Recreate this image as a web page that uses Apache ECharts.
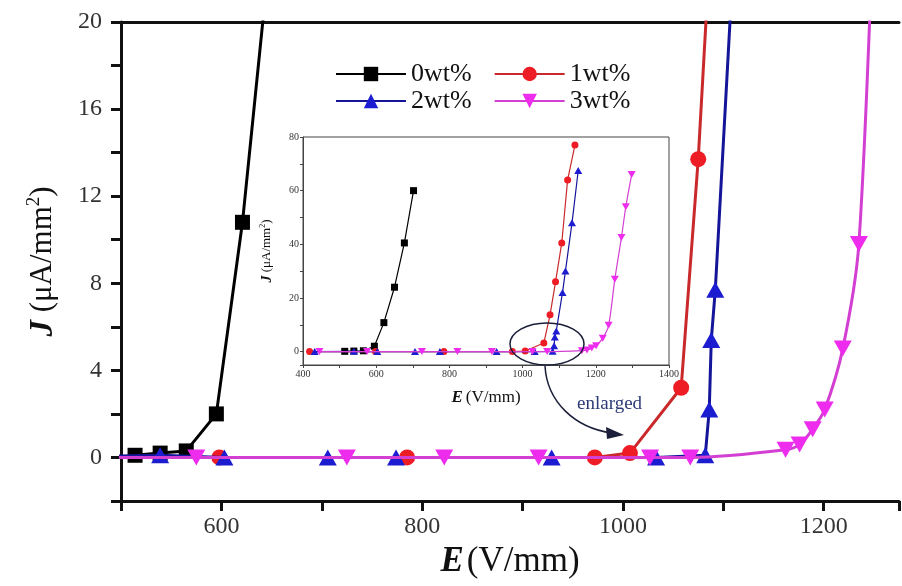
<!DOCTYPE html>
<html>
<head>
<meta charset="utf-8">
<script src="https://cdn.jsdelivr.net/npm/echarts@6/dist/echarts.min.js"></script>
<style>
html, body { margin: 0; padding: 0; background: #fff; }
#chart { width: 902px; height: 586px; }
</style>
</head>
<body>
<div id="chart"></div>
<script>
// E (V/mm) against J (uA/mm2), one pair of arrays per sample
const e0 = [514, 539, 565, 595, 621, 650, 677, 702]
const j0 = [0.1, 0.2, 0.3, 2.0, 10.8, 24, 40.5, 60]
const e1 = [418, 598, 785, 972, 1007, 1058, 1075, 1090, 1107, 1123, 1143]
const j1 = [0, 0, 0, 0, 0.2, 3.2, 13.7, 26, 40.5, 64, 77]
const e2 = [432, 539, 603, 706, 774, 929, 1033, 1082, 1086, 1088, 1092, 1109, 1117, 1135, 1152]
const j2 = [0, 0.1, 0, 0, 0, 0, 0, 0.1, 2.2, 5.4, 7.7, 22, 30, 48, 67.5]
const e3 = [445, 575, 725, 822, 916, 1027, 1067, 1162, 1176, 1189, 1201, 1219, 1235, 1252, 1270, 1282, 1298]
const j3 = [0, 0, 0, 0, 0, 0, 0, 0.35, 0.6, 1.3, 2.2, 5.0, 9.8, 27, 42.5, 54, 66]

const names = ['0wt%', '1wt%', '2wt%', '3wt%']
const xsList = [e0, e1, e2, e3]
const ysList = [j0, j1, j2, j3]

const serif = '"Liberation Serif", "DejaVu Serif", serif'
const lineColors = ['#000000', '#c9292b', '#15159a', '#d23fd2']
const markColors = ['#000000', '#ee1c24', '#1c1cd0', '#ee2cee']
const symbols = ['rect', 'circle', 'triangle', 'triangle']
const rotates = [0, 0, 0, 180]
const bigSizes = [15, 16, [18, 16], [18, 16]]
const smallSizes = [7, 7, [8, 7], [8, 7]]
const smoothing = [false, false, false, 0.3]

function pairs(xs, ys) {
  return xs.map((x, i) => [x, ys[i]])
}

let series = []
names.forEach((name, i) => {
  const base = {
    name: name,
    type: 'line',
    data: pairs(xsList[i], ysList[i]),
    symbol: symbols[i],
    symbolRotate: rotates[i],
    smooth: smoothing[i],
    clip: true,
    itemStyle: { color: markColors[i] },
    emphasis: { disabled: true }
  }
  // main plot
  series.push(Object.assign({}, base, {
    xAxisIndex: 0, yAxisIndex: 0,
    symbolSize: bigSizes[i],
    lineStyle: { color: lineColors[i], width: 3 },
    z: 2 + i
  }))
  // inset
  series.push(Object.assign({}, base, {
    xAxisIndex: 2, yAxisIndex: 1,
    symbolSize: smallSizes[i],
    lineStyle: { color: lineColors[i], width: 1.2 },
    z: 10 + i
  }))
})

const chart = echarts.init(document.getElementById('chart'))

const option = {
  animation: false,
  backgroundColor: '#fff',
  legend: [
    {
      data: ['0wt%', '1wt%'], left: 330, top: 56, itemWidth: 70, itemHeight: 18, itemGap: 22,
      selectedMode: false, textStyle: { fontFamily: serif, fontSize: 26, color: '#111' }
    },
    {
      data: ['2wt%', '3wt%'], left: 330, top: 83, itemWidth: 70, itemHeight: 18, itemGap: 22,
      selectedMode: false, textStyle: { fontFamily: serif, fontSize: 26, color: '#111' }
    }
  ],
  grid: [
    { left: 121, top: 22, right: 0, bottom: 85 },
    {
      left: 303, top: 137, width: 366, height: 228, show: true,
      backgroundColor: '#fff', borderColor: '#444', borderWidth: 1
    }
  ],
  xAxis: [
    {
      gridIndex: 0, type: 'value', min: 500, max: 1275, interval: 100,
      axisLine: { onZero: false, lineStyle: { color: '#111', width: 3 } },
      axisTick: { length: 10, lineStyle: { color: '#111', width: 3 } },
      axisLabel: {
        formatter: v => (v % 200 === 0 ? String(v) : ''),
        fontFamily: serif, fontSize: 24, color: '#333', margin: 14
      },
      splitLine: { show: false },
      name: '{b|E} {n|(V/mm)}',
      nameLocation: 'middle', nameGap: 43,
      nameTextStyle: {
        fontFamily: serif, color: '#111',
        rich: {
          b: { fontFamily: serif, fontSize: 35, fontWeight: 'bold', fontStyle: 'italic', color: '#111' },
          n: { fontFamily: serif, fontSize: 35, color: '#111' }
        }
      }
    },
    {
      gridIndex: 0, type: 'value', position: 'top', min: 500, max: 1275,
      axisLine: { onZero: false, lineStyle: { color: '#111', width: 3 } },
      axisTick: { show: false }, axisLabel: { show: false }, splitLine: { show: false }
    },
    {
      gridIndex: 1, type: 'value', min: 400, max: 1400, interval: 100,
      axisLine: { onZero: false, lineStyle: { color: '#444', width: 1 } },
      axisTick: { length: 3, lineStyle: { color: '#444' } },
      axisLabel: {
        formatter: v => (v % 200 === 0 ? String(v) : ''),
        fontFamily: serif, fontSize: 10, color: '#333', margin: 4
      },
      splitLine: { show: false },
      name: '{b|E} {n|(V/mm)}',
      nameLocation: 'middle', nameGap: 24,
      nameTextStyle: {
        fontFamily: serif, color: '#111',
        rich: {
          b: { fontFamily: serif, fontSize: 17, fontWeight: 'bold', fontStyle: 'italic', color: '#111' },
          n: { fontFamily: serif, fontSize: 17, color: '#111' }
        }
      }
    }
  ],
  yAxis: [
    {
      gridIndex: 0, type: 'value', min: -2, max: 20, interval: 2,
      axisLine: { onZero: false, lineStyle: { color: '#111', width: 3 } },
      axisTick: { length: 10, lineStyle: { color: '#111', width: 3 } },
      axisLabel: {
        formatter: v => (v % 4 === 0 ? String(v) : ''),
        fontFamily: serif, fontSize: 24, color: '#333', margin: 19
      },
      splitLine: { show: false },
      name: '{b|J}{n| (μA/mm}{s|2}{n|)}',
      nameLocation: 'middle', nameGap: 60, nameRotate: 90,
      nameTextStyle: {
        fontFamily: serif, color: '#111',
        rich: {
          b: { fontFamily: serif, fontSize: 33, fontWeight: 'bold', fontStyle: 'italic', color: '#111', lineHeight: 36 },
          n: { fontFamily: serif, fontSize: 31, color: '#111', lineHeight: 36 },
          s: { fontFamily: serif, fontSize: 19, color: '#111', verticalAlign: 'top', lineHeight: 20 }
        }
      }
    },
    {
      gridIndex: 1, type: 'value', min: -5, max: 80, splitNumber: 8, minInterval: 10, maxInterval: 10,
      axisLine: { onZero: false, lineStyle: { color: '#444', width: 1 } },
      axisTick: { length: 3, lineStyle: { color: '#444' } },
      axisLabel: {
        formatter: v => (v >= 0 && v % 20 === 0 ? String(v) : ''),
        fontFamily: serif, fontSize: 10, color: '#333', margin: 4
      },
      splitLine: { show: false },
      name: '{b|J}{n| (μA/mm}{s|2}{n|)}',
      nameLocation: 'middle', nameGap: 28, nameRotate: 90,
      nameTextStyle: {
        fontFamily: serif, color: '#111',
        rich: {
          b: { fontFamily: serif, fontSize: 14, fontWeight: 'bold', fontStyle: 'italic', color: '#111', lineHeight: 16 },
          n: { fontFamily: serif, fontSize: 13, color: '#111', lineHeight: 16 },
          s: { fontFamily: serif, fontSize: 8, color: '#111', verticalAlign: 'top', lineHeight: 9 }
        }
      }
    }
  ],
  graphic: [
    {
      type: 'ellipse', z: 100,
      shape: { cx: 547, cy: 344, rx: 37, ry: 21 },
      style: { fill: 'none', stroke: '#1b1f3a', lineWidth: 1.5 }
    },
    {
      type: 'bezierCurve', z: 100,
      shape: { x1: 545, y1: 366, cpx1: 547, cpy1: 402, cpx2: 575, cpy2: 428, x2: 612, y2: 433 },
      style: { fill: 'none', stroke: '#1b1f3a', lineWidth: 1.5 }
    },
    {
      type: 'polygon', z: 100,
      shape: { points: [[624, 435], [606, 427], [607, 439]] },
      style: { fill: '#1b1f3a' }
    },
    {
      type: 'text', z: 100, left: 577, top: 395,
      style: { text: 'enlarged', font: '19px "Liberation Serif"', fill: '#2c3a78' }
    }
  ],
  series: series
}

chart.setOption(option)
</script>
</body>
</html>
